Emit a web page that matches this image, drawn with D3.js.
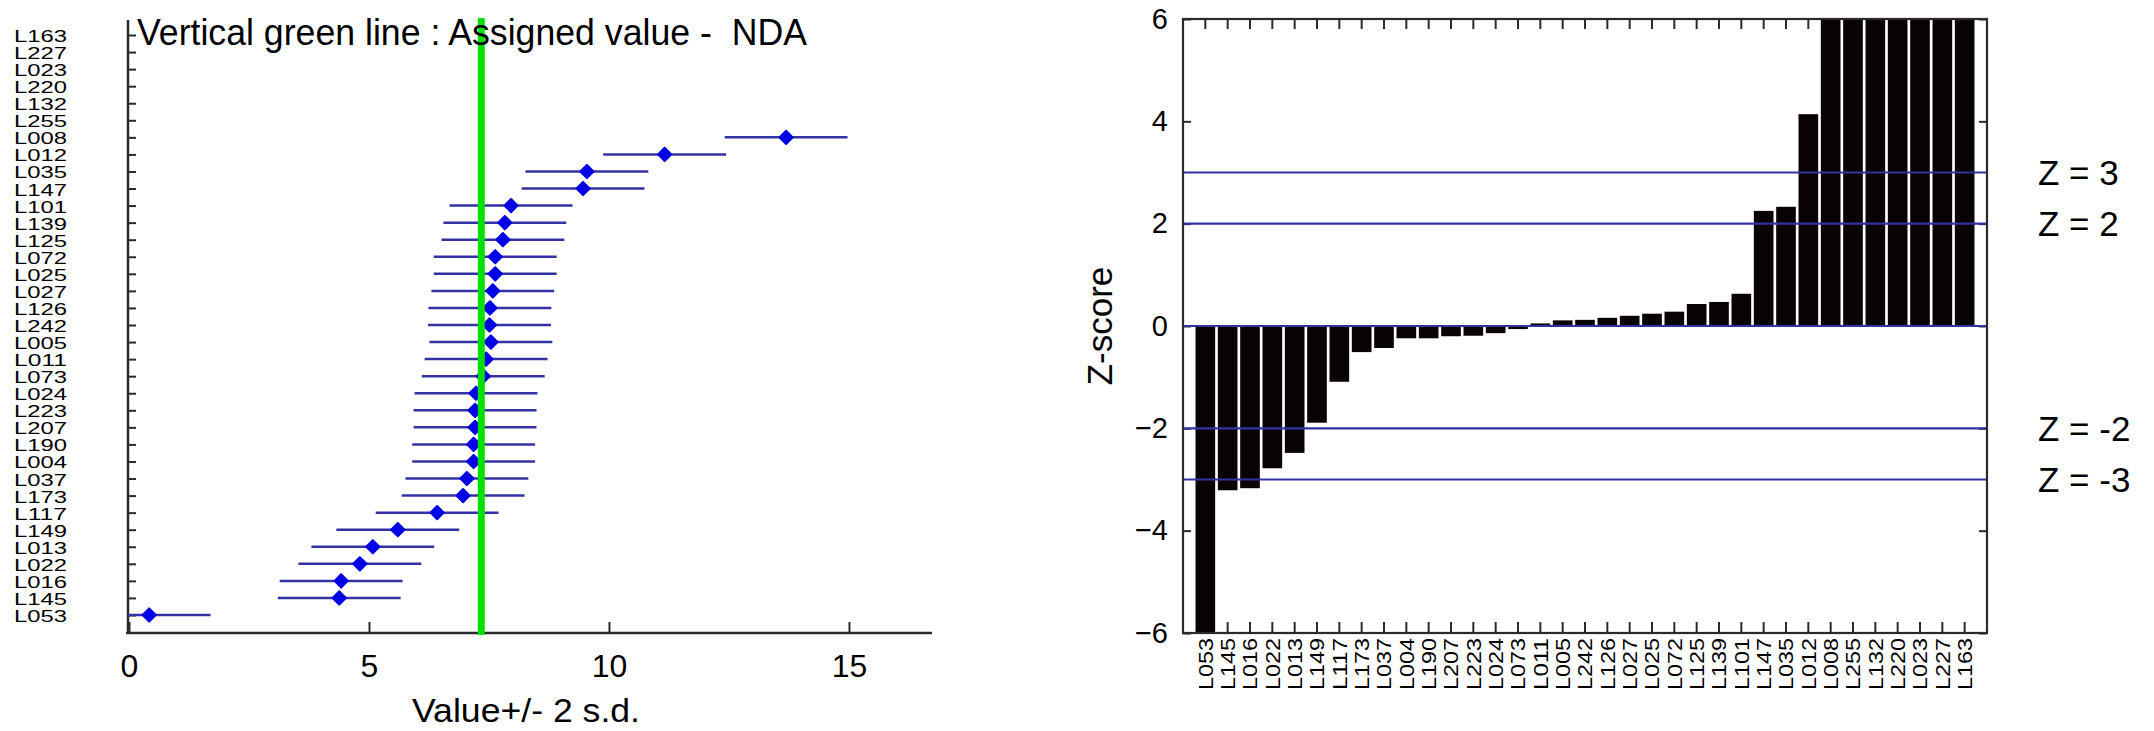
<!DOCTYPE html>
<html>
<head>
<meta charset="utf-8">
<script src="https://cdn.jsdelivr.net/npm/d3@7"></script>
<style>
  html, body { margin: 0; padding: 0; background: #ffffff; }
  svg { display: block; }
  text { font-family: "Liberation Sans", Arial, Helvetica, sans-serif; fill: #000; }
</style>
</head>
<body>
<svg id="chart" width="2154" height="731"></svg>
<script>
// ---------------- DATA ----------------
// Left panel: laboratories from top to bottom
const leftCats = ["L163","L227","L023","L220","L132","L255","L008","L012","L035","L147","L101","L139","L125","L072","L025","L027","L126","L242","L005","L011","L073","L024","L223","L207","L190","L004","L037","L173","L117","L149","L013","L022","L016","L145","L053"];
// reported values (null = not plotted in the visible range)
const leftValues = [null,null,null,null,null,null,13.69,11.16,9.54,9.46,7.96,7.83,7.79,7.63,7.63,7.58,7.52,7.51,7.54,7.44,7.38,7.23,7.21,7.21,7.18,7.18,7.04,6.96,6.42,5.60,5.08,4.81,4.42,4.38,0.42];
const twoSd = 1.28;            // half-width of the +/- 2 s.d. bars
const assignedValue = 7.34;    // vertical green line
const leftTicks = [0, 5, 10, 15];
const leftTitle = "Vertical green line : Assigned value -  NDA";
const leftXLabel = "Value+/- 2 s.d.";

// Right panel: z-scores, ordered left to right
const barCats = ["L053","L145","L016","L022","L013","L149","L117","L173","L037","L004","L190","L207","L223","L024","L073","L011","L005","L242","L126","L027","L025","L072","L125","L139","L101","L147","L035","L012","L008","L255","L132","L220","L023","L227","L163"];
const zScores = [-6,-3.21,-3.17,-2.78,-2.48,-1.89,-1.09,-0.51,-0.43,-0.24,-0.24,-0.20,-0.19,-0.14,-0.06,0.05,0.11,0.12,0.16,0.20,0.24,0.28,0.43,0.47,0.63,2.25,2.33,4.14,6,6,6,6,6,6,6];
const zTicks = [-6, -4, -2, 0, 2, 4, 6];
const zLines = [3, 2, 0, -2, -3];
const zLineLabels = [3, 2, -2, -3];
const zAxisTitle = "Z-score";

// ---------------- DRAW ----------------
const svg = d3.select("#chart");
svg.append("rect").attr("width", 2154).attr("height", 731).attr("fill", "#fff");
const axisColor = "#2a2a2a";
const blue = "#3232a2";

// ===== LEFT PANEL =====
const xL = d3.scaleLinear().domain([0, 16.73]).range([129, 932]);
const yL = d3.scalePoint().domain(leftCats).range([35, 615]);
const left = svg.append("g");

left.append("defs").append("clipPath").attr("id", "clipL")
  .append("rect").attr("x", 128).attr("y", 0).attr("width", 810).attr("height", 640);

// category labels (left column)
left.append("g").selectAll("text").data(leftCats).join("text")
  .attr("x", 14).attr("y", d => yL(d) + 7)
  .attr("font-size", 16)
  .attr("textLength", 53).attr("lengthAdjust", "spacingAndGlyphs")
  .text(d => d);

// y axis ticks (no labels)
const yAxisL = left.append("g").attr("transform", "translate(128,0)")
  .call(d3.axisRight(yL).tickSize(8).tickFormat(""));
yAxisL.select(".domain").remove();
yAxisL.selectAll(".tick line").attr("stroke", axisColor).attr("stroke-width", 2);
left.append("line").attr("x1", 128).attr("x2", 128).attr("y1", 20).attr("y2", 634)
  .attr("stroke", axisColor).attr("stroke-width", 2.5);

// x axis
const xAxisL = left.append("g").attr("transform", "translate(0,633)")
  .call(d3.axisBottom(xL).tickValues(leftTicks).tickSize(-11).tickPadding(21).tickFormat(d3.format("d")));
xAxisL.select(".domain").remove();
xAxisL.selectAll(".tick line").attr("stroke", axisColor).attr("stroke-width", 2);
xAxisL.selectAll(".tick text").attr("font-size", 32).attr("font-family", "Liberation Sans, Arial, sans-serif").attr("fill", "#000");
left.append("line").attr("x1", 126).attr("x2", 932).attr("y1", 633).attr("y2", 633)
  .attr("stroke", axisColor).attr("stroke-width", 2.5);

// error bars + points
const pts = leftCats.map((c, i) => ({ c, v: leftValues[i] })).filter(d => d.v !== null);
const plotL = left.append("g").attr("clip-path", "url(#clipL)");
plotL.selectAll("line.err").data(pts).join("line").attr("class", "err")
  .attr("x1", d => xL(d.v - twoSd)).attr("x2", d => xL(d.v + twoSd))
  .attr("y1", d => yL(d.c)).attr("y2", d => yL(d.c))
  .attr("stroke", blue).attr("stroke-width", 2.5);
plotL.selectAll("path.pt").data(pts).join("path").attr("class", "pt")
  .attr("d", d3.symbol(d3.symbolSquare, 88)())
  .attr("transform", d => `translate(${xL(d.v)},${yL(d.c)}) rotate(45)`)
  .attr("fill", "#0000e6").attr("stroke", "#0000e6").attr("stroke-width", 2)
  .attr("stroke-linejoin", "round");

// assigned value line
left.append("line")
  .attr("x1", xL(assignedValue)).attr("x2", xL(assignedValue))
  .attr("y1", 18).attr("y2", 635)
  .attr("stroke", "#00e000").attr("stroke-width", 7);

// title and axis title
left.append("text").attr("x", 137).attr("y", 45).attr("font-size", 36)
  .attr("style", "white-space: pre")
  .attr("textLength", 670).attr("lengthAdjust", "spacingAndGlyphs")
  .text(leftTitle);
left.append("text").attr("x", 526).attr("y", 722).attr("font-size", 33)
  .attr("text-anchor", "middle")
  .attr("textLength", 228).attr("lengthAdjust", "spacingAndGlyphs")
  .text(leftXLabel);

// ===== RIGHT PANEL =====
const x0 = 1183, x1 = 1987, yTop = 19, yBot = 633;
const xR = d3.scaleBand().domain(barCats).range([x0, x1]).paddingInner(0.12).paddingOuter(0.56);
const yR = d3.scaleLinear().domain([-6, 6]).range([yBot, yTop]);
const right = svg.append("g");

// ticks (mirror ticks on all four sides)
const axL = right.append("g").attr("transform", `translate(${x0},0)`)
  .call(d3.axisLeft(yR).tickValues(zTicks).tickSize(-8).tickPadding(15).tickFormat(d3.format("d")));
const axR = right.append("g").attr("transform", `translate(${x1},0)`)
  .call(d3.axisRight(yR).tickValues(zTicks).tickSize(-8).tickFormat(""));
const axB = right.append("g").attr("transform", `translate(0,${yBot})`)
  .call(d3.axisBottom(xR).tickSize(-11).tickPadding(5));
const axT = right.append("g").attr("transform", `translate(0,${yTop})`)
  .call(d3.axisTop(xR).tickSize(-10).tickFormat(""));
[axL, axR, axB, axT].forEach(a => {
  a.select(".domain").remove();
  a.selectAll(".tick line").attr("stroke", axisColor).attr("stroke-width", 2);
});
axL.selectAll(".tick text").attr("font-size", 29).attr("font-family", "Liberation Sans, Arial, sans-serif").attr("fill", "#000");
axB.selectAll(".tick text")
  .attr("font-size", 20).attr("font-family", "Liberation Sans, Arial, sans-serif").attr("fill", "#000")
  .attr("transform", "rotate(-90)")
  .attr("text-anchor", "end")
  .attr("x", -5).attr("y", 0).attr("dy", "0.36em")
  .attr("textLength", 52).attr("lengthAdjust", "spacingAndGlyphs");

// bars
right.append("g").selectAll("rect").data(barCats.map((c, i) => ({ c, z: zScores[i] }))).join("rect")
  .attr("x", d => xR(d.c))
  .attr("width", xR.bandwidth())
  .attr("y", d => yR(Math.max(0, d.z)))
  .attr("height", d => Math.abs(yR(d.z) - yR(0)))
  .attr("fill", "#0a0303");

// reference lines
right.append("g").selectAll("line").data(zLines).join("line")
  .attr("x1", x0).attr("x2", x1)
  .attr("y1", d => yR(d)).attr("y2", d => yR(d))
  .attr("stroke", blue).attr("stroke-width", 2.2);

// frame
right.append("rect").attr("x", x0).attr("y", yTop).attr("width", x1 - x0).attr("height", yBot - yTop)
  .attr("fill", "none").attr("stroke", axisColor).attr("stroke-width", 2.2);

// z labels
right.append("g").selectAll("text").data(zLineLabels).join("text")
  .attr("x", 2038).attr("y", d => yR(d)).attr("dy", "0.36em")
  .attr("font-size", 35)
  .text(d => `Z = ${d}`);

// y axis title
right.append("text")
  .attr("transform", `translate(1112,${(yTop + yBot) / 2}) rotate(-90)`)
  .attr("text-anchor", "middle").attr("font-size", 35)
  .text(zAxisTitle);
</script>
</body>
</html>
